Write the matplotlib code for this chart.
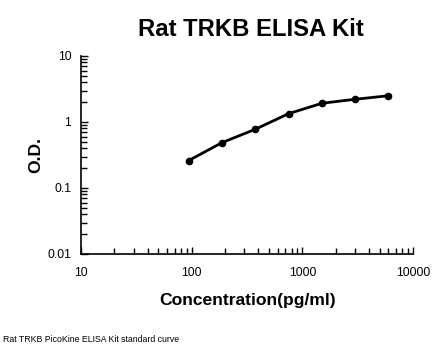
import matplotlib
matplotlib.use("Agg")
import matplotlib.pyplot as plt
from matplotlib.ticker import LogLocator, NullFormatter, FixedLocator, FixedFormatter

plt.rcParams['font.family'] = ['Liberation Sans', 'DejaVu Sans']

concentration = [93.75, 187.5, 375, 750, 1500, 3000, 6000]
od = [0.26, 0.486, 0.775, 1.336, 1.92, 2.21, 2.50]

x_ticks = [10, 100, 1000, 10000]
x_labels = ["10", "100", "1000", "10000"]
y_ticks = [0.01, 0.1, 1, 10]
y_labels = ["0.01", "0.1", "1", "10"]

fig = plt.figure(figsize=(4.46, 3.56), dpi=100)
ax = fig.add_axes([81/446, 1-254/356, (413-81)/446, (254-56)/356])

ax.plot(concentration, od, color='black', lw=2, marker='o', markersize=4.5, solid_capstyle='round')
ax.set_xscale('log')
ax.set_yscale('log')
ax.set_xlim(10, 10000)
ax.set_ylim(0.01, 10)

ax.xaxis.set_major_locator(FixedLocator(x_ticks))
ax.xaxis.set_major_formatter(FixedFormatter(x_labels))
ax.yaxis.set_major_locator(FixedLocator(y_ticks))
ax.yaxis.set_major_formatter(FixedFormatter(y_labels))
ax.xaxis.set_minor_locator(LogLocator(base=10, subs=range(2, 10)))
ax.yaxis.set_minor_locator(LogLocator(base=10, subs=range(2, 10)))
ax.xaxis.set_minor_formatter(NullFormatter())
ax.yaxis.set_minor_formatter(NullFormatter())

ax.tick_params(which='both', direction='in', width=1, colors='black', labelsize=8.8)
ax.tick_params(which='major', length=5)
ax.tick_params(which='minor', length=4)
ax.tick_params(axis='x', which='major', pad=9)
ax.tick_params(axis='y', which='major', pad=7)

for s in ['top', 'right']:
    ax.spines[s].set_visible(False)
for s in ['left', 'bottom']:
    ax.spines[s].set_linewidth(1.2)

fig.text(251/446, 1-30/356, "Rat TRKB ELISA Kit", ha='center', va='center', fontsize=17.2, fontweight='bold')
fig.text(248/446, 1-300/356, "Concentration(pg/ml)", ha='center', va='center', fontsize=12.6, fontweight='bold')
fig.text(36/446, 1-155/356, "O.D.", ha='center', va='center', fontsize=12.6, fontweight='bold', rotation=90)
fig.text(3/446, 1-340/356, "Rat TRKB PicoKine ELISA Kit standard curve", ha='left', va='center', fontsize=6.3)

fig.savefig("out.png", dpi=100)
